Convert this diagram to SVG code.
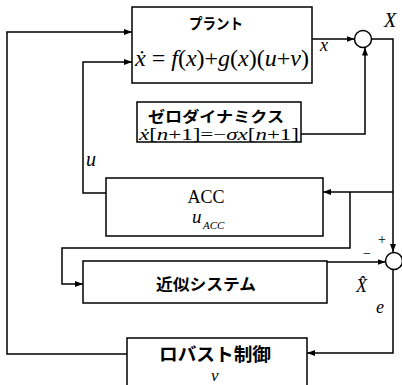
<svg xmlns="http://www.w3.org/2000/svg" width="402" height="385" viewBox="0 0 402 385">
<style>
.box{fill:#fff;stroke:#000;stroke-width:1.5}
.ln{fill:none;stroke:#000;stroke-width:1.5}
.jp{font-family:"Noto Sans CJK JP",sans-serif;font-weight:bold;fill:#000}
.m{font-family:"Liberation Serif","Times New Roman",serif;font-style:italic;fill:#000}
.r{font-family:"Liberation Serif","Times New Roman",serif;font-style:normal;fill:#000}
</style>
<defs>
<marker id="a" markerWidth="8" markerHeight="6" refX="8" refY="3" orient="auto" markerUnits="userSpaceOnUse"><path d="M0,0 L8,3 L0,6 z" fill="#000"/></marker>
</defs>
<rect width="402" height="385" fill="#fff"/>
<g id="connectors">
<path class="ln" d="M312,39 H354.5" marker-end="url(#a)"/>
<path class="ln" d="M301,134 H365 V47.5" marker-end="url(#a)"/>
<path class="ln" d="M371.5,39 H393 V252" marker-end="url(#a)"/>
<path class="ln" d="M393,192 H323" marker-end="url(#a)"/>
<path class="ln" d="M350,192 V248 H62 V284 H83" marker-end="url(#a)"/>
<path class="ln" d="M327,262 H385.5" marker-end="url(#a)"/>
<path class="ln" d="M393,269.5 V353 H307" marker-end="url(#a)"/>
<path class="ln" d="M127,354 H7 V32 H132" marker-end="url(#a)"/>
<path class="ln" d="M106,193 H83 V62 H132" marker-end="url(#a)"/>
<text class="m" x="320" y="51" font-size="18">x</text>
<text class="m" x="384" y="27" font-size="20">X</text>
<text class="m" x="86" y="166" font-size="20">u</text>
<text class="r" x="378" y="244" font-size="14">+</text>
<text class="r" x="363" y="258" font-size="14">−</text>
<text class="m" x="356" y="292" font-size="18">X̂</text>
<text class="m" x="376" y="313" font-size="18">e</text>
</g>
<g id="plant">
<rect class="box" x="132" y="7" width="180" height="76"/>
<text class="jp" x="216" y="29" font-size="15" text-anchor="middle" textLength="54" lengthAdjust="spacingAndGlyphs">プラント</text>
<text class="m" x="135" y="66" font-size="24" textLength="174" lengthAdjust="spacingAndGlyphs">ẋ<tspan class="r"> = </tspan>f<tspan class="r">(</tspan>x<tspan class="r">)+</tspan>g<tspan class="r">(</tspan>x<tspan class="r">)(</tspan>u<tspan class="r">+</tspan>v<tspan class="r">)</tspan></text>
</g>
<g id="zero-dynamics">
<rect class="box" x="137" y="102" width="164" height="40"/>
<text class="jp" x="216" y="122" font-size="15" text-anchor="middle" textLength="136" lengthAdjust="spacingAndGlyphs">ゼロダイナミクス</text>
<text class="m" x="139" y="140" font-size="16" textLength="160" lengthAdjust="spacingAndGlyphs">ẋ<tspan class="r">[</tspan>n<tspan class="r">+1]=−</tspan>σx<tspan class="r">[</tspan>n<tspan class="r">+1]</tspan></text>
</g>
<g id="acc">
<rect class="box" x="106" y="178" width="217" height="58"/>
<text class="r" x="206" y="203" font-size="18" text-anchor="middle">ACC</text>
<text class="m" x="192" y="223" font-size="19">u</text>
<text class="m" x="203" y="229" font-size="11">ACC</text>
</g>
<g id="approx-system">
<rect class="box" x="83" y="261" width="244" height="42"/>
<text class="jp" x="206" y="290" font-size="16" text-anchor="middle" textLength="100" lengthAdjust="spacingAndGlyphs">近似システム</text>
</g>
<g id="robust">
<rect class="box" x="127" y="338" width="180" height="60"/>
<text class="jp" x="215" y="361" font-size="18" text-anchor="middle" textLength="112" lengthAdjust="spacingAndGlyphs">ロバスト制御</text>
<text class="m" x="211" y="381" font-size="17">v</text>
</g>
<g id="sum1"><circle class="box" cx="363" cy="39" r="8.5"/></g>
<g id="sum2"><circle class="box" cx="394" cy="261" r="8.5"/></g>
</svg>
